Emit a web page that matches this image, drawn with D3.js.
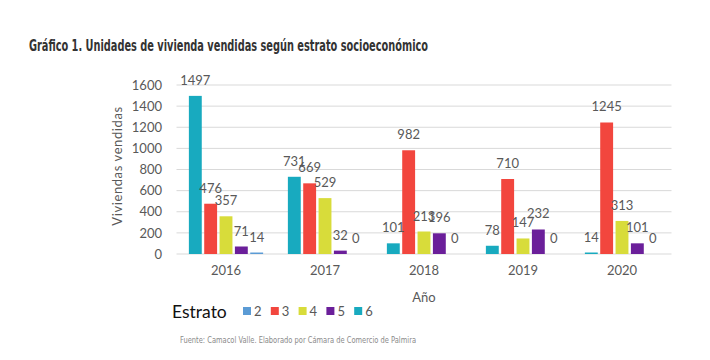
<!DOCTYPE html>
<html><head><meta charset="utf-8">
<script src="https://cdn.jsdelivr.net/npm/d3@7"></script>
<style>body{margin:0;background:#fff}svg{display:block}</style>
</head><body>
<script>
const years = ["2016","2017","2018","2019","2020"];
const seriesNames = ["6","3","4","5","2"];           // drawing order of bars in each group
const estrato6 = [1497, 731, 101, 78, 14];
const estrato3 = [476, 669, 982, 710, 1245];
const estrato4 = [357, 529, 213, 147, 313];
const estrato5 = [71, 32, 196, 232, 101];
const estrato2 = [14, 0, 0, 0, 0];
const legendNames = ["2","3","4","5","6"];
const yTicks = [0,200,400,600,800,1000,1200,1400,1600];

const values = {"6": estrato6, "3": estrato3, "4": estrato4, "5": estrato5, "2": estrato2};
const colors = {"2":"#5B9BD5","3":"#F2463E","4":"#D8DC3A","5":"#6B1F9A","6":"#18AABF"};

const W = 710, H = 360;
const svg = d3.select("body").append("svg").attr("width", W).attr("height", H);

const x0 = d3.scaleBand().domain(years).range([176.5, 671.5]).paddingInner(0.25).paddingOuter(0.125);
const x1 = d3.scaleBand().domain(seriesNames).range([0, x0.bandwidth()]).paddingInner(0.16);
const y = d3.scaleLinear().domain([0, 1600]).range([254, 85]);

// title
svg.append("text").attr("x", 29).attr("y", 51)
  .attr("font-family", "'Liberation Sans Narrow','DejaVu Sans Condensed',sans-serif")
  .attr("font-weight", "bold").attr("font-size", 16).attr("fill", "#333")
  .attr("textLength", 399).attr("lengthAdjust", "spacingAndGlyphs")
  .text("Gráfico 1. Unidades de vivienda vendidas según estrato socioeconómico");

// grid
svg.append("g").selectAll("line").data(yTicks).join("line")
  .attr("x1", 176.5).attr("x2", 671.5)
  .attr("y1", d => y(d)).attr("y2", d => y(d))
  .attr("stroke", "#D9D9D9").attr("stroke-width", 1);

// y axis labels
const yAxis = svg.append("g").attr("transform", "translate(170,0)")
  .call(d3.axisLeft(y).tickValues(yTicks).tickFormat(d3.format("d")).tickSize(0).tickPadding(8));
yAxis.select(".domain").remove();
yAxis.selectAll("text").attr("font-family", "Lato, 'Open Sans', sans-serif")
  .attr("font-size", 13).attr("fill", "#595959");

// x axis labels
const xAxis = svg.append("g").attr("transform", "translate(0,254)")
  .call(d3.axisBottom(x0).tickSize(0).tickPadding(12));
xAxis.select(".domain").remove();
xAxis.selectAll("text").attr("font-family", "Lato, 'Open Sans', sans-serif")
  .attr("font-size", 13).attr("fill", "#595959");

// bars
const groups = svg.append("g").selectAll("g").data(years).join("g")
  .attr("transform", d => `translate(${x0(d)},0)`);
groups.selectAll("rect").data((d, i) => seriesNames.map(s => ({s, v: values[s][i]}))).join("rect")
  .attr("x", d => x1(d.s)).attr("width", x1.bandwidth())
  .attr("y", d => y(d.v)).attr("height", d => y(0) - y(d.v))
  .attr("fill", d => colors[d.s]);
groups.selectAll("text").data((d, i) => seriesNames.map(s => ({s, v: values[s][i]}))).join("text")
  .attr("x", d => x1(d.s) + x1.bandwidth() / 2).attr("y", d => y(d.v) - 11)
  .attr("text-anchor", "middle")
  .attr("font-family", "Lato, 'Open Sans', sans-serif").attr("font-size", 13).attr("fill", "#595959")
  .text(d => d.v);

// axis titles
svg.append("text").attr("transform", "translate(122,166) rotate(-90)")
  .attr("text-anchor", "middle").attr("font-family", "Lato, 'Open Sans', sans-serif")
  .attr("font-size", 13).attr("fill", "#595959").attr("letter-spacing", 0.6)
  .text("Viviendas vendidas");
svg.append("text").attr("x", 424).attr("y", 302).attr("text-anchor", "middle")
  .attr("font-family", "Lato, 'Open Sans', sans-serif").attr("font-size", 13).attr("fill", "#595959")
  .text("Año");

// legend
svg.append("text").attr("x", 172).attr("y", 318)
  .attr("font-family", "Lato, 'Open Sans', sans-serif").attr("font-size", 17.5).attr("fill", "#111")
  .text("Estrato");
const leg = svg.append("g").selectAll("g").data(legendNames).join("g")
  .attr("transform", (d, i) => `translate(${243 + i * 27.8},307)`);
leg.append("rect").attr("width", 8).attr("height", 8).attr("fill", d => colors[d]);
leg.append("text").attr("x", 11).attr("y", 9)
  .attr("font-family", "Lato, 'Open Sans', sans-serif").attr("font-size", 13).attr("fill", "#595959")
  .text(d => d);

// footer
svg.append("text").attr("x", 180).attr("y", 343)
  .attr("font-family", "'Liberation Sans Narrow','DejaVu Sans Condensed',sans-serif")
  .attr("font-size", 9).attr("fill", "#8a8a8a")
  .attr("textLength", 236).attr("lengthAdjust", "spacingAndGlyphs")
  .text("Fuente: Camacol Valle. Elaborado por Cámara de Comercio de Palmira");
</script>
</body></html>
